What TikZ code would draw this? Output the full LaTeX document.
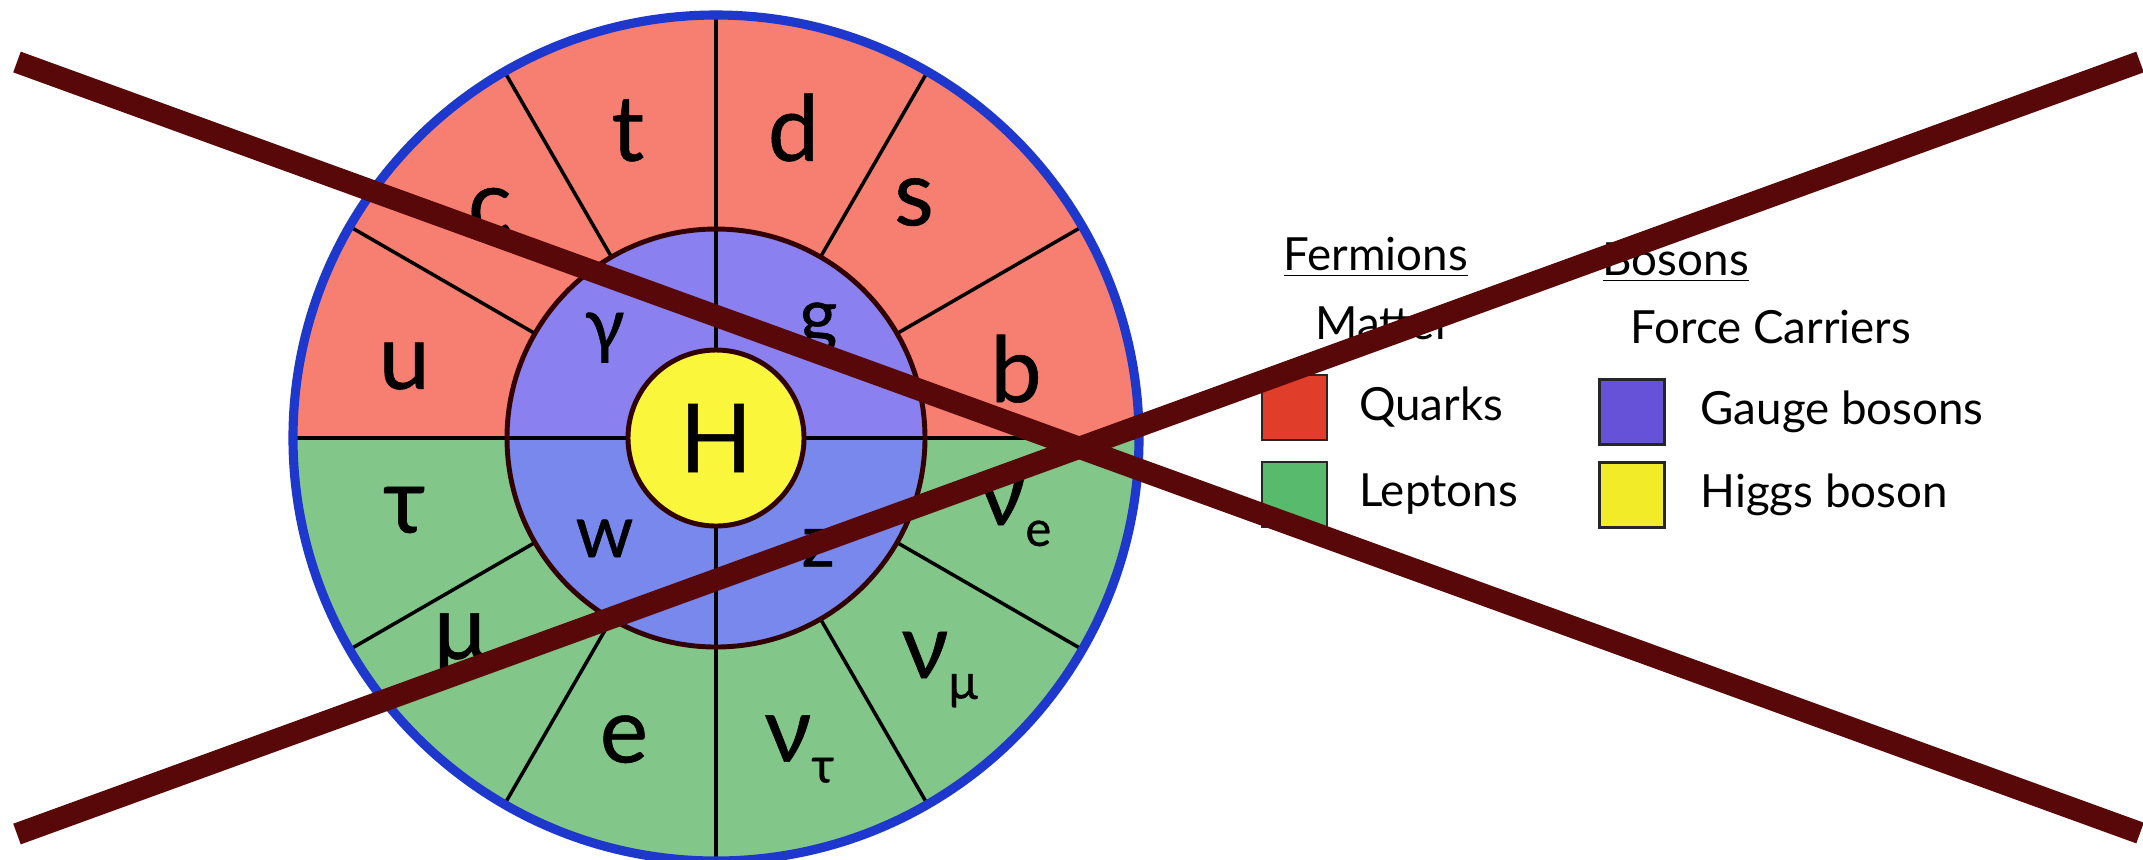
\documentclass[tikz,border=0pt]{standalone}
\usepackage{fontspec}
\setmainfont{Lato}
\newfontfamily\wheelfont[FakeBold=0.6]{Lato}
\usetikzlibrary{positioning}
\definecolor{quark}{RGB}{247,127,113}
\definecolor{lepton}{RGB}{130,198,138}
\definecolor{gaugeup}{RGB}{138,128,240}
\definecolor{gaugedn}{RGB}{120,136,236}
\definecolor{higgs}{RGB}{250,246,60}
\definecolor{rim}{RGB}{30,55,205}
\definecolor{quarkkey}{RGB}{224,62,42}
\definecolor{leptonkey}{RGB}{88,186,108}
\definecolor{gaugekey}{RGB}{102,82,216}
\definecolor{higgskey}{RGB}{242,236,40}
\definecolor{crossout}{RGB}{88,8,8}
\newcommand\lsub[1]{\raisebox{-0.45ex}{\fontsize{14}{14}\selectfont #1}}

\begin{document}
\begin{tikzpicture}[
  spoke/.style={black,line width=1pt},
  ringline/.style={draw=black!80!red,line width=1.4pt},
  outerlab/.style={inner sep=0pt,font=\wheelfont\fontsize{26}{28}\selectfont},
  innerlab/.style={inner sep=0pt,font=\wheelfont\fontsize{21}{23}\selectfont},
  keybox/.style={draw=black!85,line width=0.8pt,minimum size=0.65cm,inner sep=0pt},
  keytext/.style={inner sep=0pt,anchor=west,font=\fontsize{13}{15}\selectfont},
  keyhead/.style={inner sep=0pt,anchor=base west,font=\fontsize{13}{15}\selectfont},
  cross/.style={crossout,line width=0.22cm}]
\useasboundingbox (-7.16,-4.21) rectangle (14.27,4.38);
\def\R{4.23}
\def\Rm{2.09}
\def\Rl{3.2}
% wheel: quarks on top, leptons below, gauge bosons inside
\fill[quark] (\R,0) arc[start angle=0,end angle=180,radius=\R] -- cycle;
\fill[lepton] (\R,0) arc[start angle=0,end angle=-180,radius=\R] -- cycle;
\fill[gaugeup] (\Rm,0) arc[start angle=0,end angle=180,radius=\Rm] -- cycle;
\fill[gaugedn] (\Rm,0) arc[start angle=0,end angle=-180,radius=\Rm] -- cycle;
\foreach \ang in {30,60,120,150,210,240,300,330}{
  \draw[spoke] (\ang:\Rm) -- (\ang:\R);
}
\draw[spoke] (-\R,0) -- (\R,0);
\draw[spoke] (0,-\R) -- (0,\R);
\draw[ringline] (0,0) circle[radius=\Rm];
\node[circle,draw=black!80!red,line width=1.4pt,fill=higgs,minimum size=1.76cm,
  inner sep=0pt,font=\wheelfont\fontsize{27}{29}\selectfont] (H) at (0,0) {H};
\draw[rim,line width=2.6pt] (0,0) circle[radius=\R];
% particle labels
\foreach \ang/\r/\lab/\nm in {167/3.2/u/u,135/3.2/c/c,106/3.2/t/t,76/3.2/d/d,
  50/3.08/s/s,13/3.08/b/b,-167/3.2/τ/tau,-141/3.28/μ/mu,-107/3.15/e/e}{
  \node[outerlab] (\nm) at (\ang:\r) {\lab};
}
\node[outerlab] (nue) at (-14:3.08) {ν\lsub{e}};
\node[outerlab] (numu) at (-46:3.22) {ν\lsub{μ}};
\node[outerlab] (nutau) at (-75:3.22) {ν\lsub{τ}};
\foreach \ang/\lab/\nm in {138/γ/gam,47/g/glu,222/w/wb,313/z/zb}{
  \node[innerlab] (\nm) at (\ang:1.5) {\lab};
}
% legend
\node[keyhead] (ferm) at (5.67,1.68) {\underline{Fermions}};
\node[keyhead] (bos) at (8.86,1.63) {\underline{Bosons}};
\node[keyhead] (matter) at (5.99,0.99) {Matter};
\node[keyhead] (force) at (9.14,0.95) {Force Carriers};
\node[keybox,fill=quarkkey] (qbox) at (5.785,0.305) {};
\node[keybox,fill=leptonkey] (lbox) at (5.785,-0.565) {};
\node[keybox,fill=gaugekey] (gbox) at (9.16,0.26) {};
\node[keybox,fill=higgskey] (hbox) at (9.16,-0.57) {};
\node[keytext,right=0.3 of qbox] (quarks) {Quarks};
\node[keytext,right=0.3 of lbox] (leptons) {Leptons};
\node[keytext,right=0.34 of gbox] (gauge) {Gauge bosons};
\node[keytext,right=0.34 of hbox] (higgsb) {Higgs boson};
% crossed out
\coordinate (xa) at (-6.99,3.76);
\coordinate (xb) at (14.24,-3.95);
\coordinate (xc) at (-6.99,-3.96);
\coordinate (xd) at (14.24,3.76);
\draw[cross] (xa) -- (xb);
\draw[cross] (xc) -- (xd);
\end{tikzpicture}
\end{document}
